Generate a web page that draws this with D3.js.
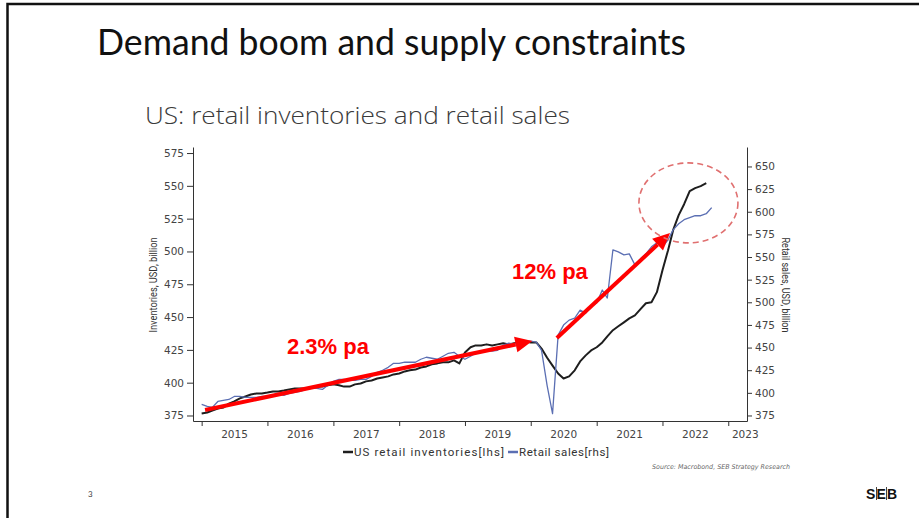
<!DOCTYPE html>
<html>
<head>
<meta charset="utf-8">
<script src="https://cdn.jsdelivr.net/npm/d3@7"></script>
<style>
  body { margin: 0; background: #fff; }
  svg { display: block; }
</style>
</head>
<body>
<div id="chart"></div>
<script>
let width = 919, height = 518;

// monthly data, first value is Jan 2015
let startYear = 2015;
let inventories = [376.5, 377.3, 378.8, 380.3, 381, 384, 385.7, 388, 389.5, 391, 391.8, 391.8,
  392.5, 393.3, 393.3, 394, 394.8, 395.6, 395.6, 395.6, 396.4, 397, 397, 398,
  398.7, 398, 397, 397, 398.7, 399.4, 401, 401.7, 403.2, 404, 404.8, 406.3,
  407, 408.6, 409.4, 410, 411.6, 412.4, 414, 414.7, 415.5, 415.5, 417, 414.7,
  423, 427, 428.4, 428.4, 429.2, 428.4, 429.2, 430, 429.2, 430, 430.7, 431.5,
  430.7, 430.7, 426, 419, 413, 407, 403.2, 404.8, 409.4, 416.2, 420.8, 424.6,
  427, 430.7, 435.3, 440, 443, 446, 449, 451.3, 456, 460.5, 461.3, 469,
  485.7, 501, 516.2, 527.7, 536, 546, 548.3, 549.8, 552];
let retailSales = [387.2, 385, 383.9, 390.5, 391.6, 392.7, 396, 396, 395, 395, 395, 396,
  396, 397.2, 398.3, 397.2, 399.4, 400.5, 401.6, 403.8, 405, 405, 403.8, 408.3,
  412.7, 414.9, 414.9, 413.8, 413.8, 414.9, 414.9, 418.2, 422.7, 424.9, 428.2, 432.6,
  432.6, 433.8, 433.8, 433.8, 437.1, 439.3, 438.2, 437.1, 440.4, 443.7, 444.8, 440.4,
  437.1, 440.4, 443.7, 444.8, 446, 446, 447, 452.6, 454.8, 453.7, 456, 457,
  457, 456, 447, 408, 377, 463.7, 474.8, 480.3, 482.5, 491.4, 488, 495.8,
  499.2, 513.6, 504.7, 557.9, 555.7, 552.4, 553.5, 541.3, 548, 553.5, 561.3, 565.7,
  561.3, 569, 580, 586.7, 591.2, 593.4, 595.6, 595.6, 597.8, 604.5];

let leftTicks = [375, 400, 425, 450, 475, 500, 525, 550, 575];
let rightTicks = [375, 400, 425, 450, 475, 500, 525, 550, 575, 600, 625, 650];
let years = [2015, 2016, 2017, 2018, 2019, 2020, 2021, 2022, 2023];

let seriesNames = ["US retail inventories[lhs]", "Retail sales[rhs]"];
let seriesColors = ["#1e1e1e", "#5b6fb3"];

// annotations: [start date, start lhs value, end date, end lhs value]
let arrows = [
  [new Date(2015, 0, 20), 379.2, new Date(2020, 0, 10), 431.8],
  [new Date(2020, 4, 25), 434, new Date(2022, 1, 12), 514]
];
let arrowLabels = ["2.3% pa", "12% pa"];

let monthDate = i => new Date(startYear, i, 1);

let x = d3.scaleTime()
  .domain([new Date(2014, 10, 14), new Date(2023, 3, 15)])
  .range([193, 747]);
let yL = d3.scaleLinear().domain([370.8, 579.6]).range([421, 147]);
let yR = d3.scaleLinear().domain([368.9, 671.5]).range([421, 147]);

let svg = d3.select("#chart").append("svg")
  .attr("width", width).attr("height", height)
  .attr("viewBox", [0, 0, width, height]);

// slide frame
svg.append("path")
  .attr("d", `M7.5,${height} V4 H${width}`)
  .attr("fill", "none").attr("stroke", "#111").attr("stroke-width", 2.5);

svg.append("text")
  .attr("x", 97).attr("y", 55)
  .attr("font-family", "Lato, 'Open Sans', sans-serif")
  .attr("font-size", 36)
  .attr("fill", "#111")
  .attr("textLength", 589).attr("lengthAdjust", "spacingAndGlyphs")
  .text("Demand boom and supply constraints");

svg.append("text")
  .attr("x", 145).attr("y", 124)
  .attr("font-family", "'Open Sans', sans-serif")
  .attr("font-weight", 300)
  .attr("font-size", 23)
  .attr("fill", "#3a3a3a")
  .attr("textLength", 425).attr("lengthAdjust", "spacingAndGlyphs")
  .text("US: retail inventories and retail sales");

let tickFont = g => g
  .attr("font-family", "'DejaVu Sans', sans-serif")
  .attr("font-size", 10.5)
  .call(g => g.selectAll(".domain").attr("stroke", "#333"))
  .call(g => g.selectAll(".tick line").attr("stroke", "#333"))
  .call(g => g.selectAll(".tick text").attr("fill", "#444"));

svg.append("g")
  .attr("transform", "translate(193,0)")
  .call(d3.axisLeft(yL).tickValues(leftTicks).tickSize(6).tickSizeOuter(0).tickPadding(3))
  .call(tickFont);

svg.append("g")
  .attr("transform", "translate(747,0)")
  .call(d3.axisRight(yR).tickValues(rightTicks).tickSize(5).tickSizeOuter(0).tickPadding(3))
  .call(tickFont);

svg.append("g")
  .attr("transform", "translate(0,421)")
  .call(d3.axisBottom(x).tickValues(years.map(y => new Date(y, 0, 1))).tickFormat("").tickSize(5).tickSizeOuter(0))
  .call(tickFont);

// year labels centred in each year (last one in the part that is shown)
svg.append("g")
  .attr("font-family", "'DejaVu Sans', sans-serif")
  .attr("font-size", 10.5)
  .attr("fill", "#444")
  .attr("text-anchor", "middle")
  .selectAll("text")
  .data(years)
  .join("text")
  .attr("x", d => d < 2023 ? (x(new Date(d, 0, 1)) + x(new Date(d + 1, 0, 1))) / 2 : x(new Date(d, 0, 1)) + 17)
  .attr("y", 438)
  .text(d => d);

svg.append("text")
  .attr("transform", `translate(157,285) rotate(-90)`)
  .attr("text-anchor", "middle")
  .attr("font-family", "'Liberation Sans Narrow', Roboto, sans-serif")
  .attr("font-size", 10)
  .attr("fill", "#333")
  .attr("textLength", 95).attr("lengthAdjust", "spacingAndGlyphs")
  .text("Inventories, USD, billion");

svg.append("text")
  .attr("transform", `translate(782,285) rotate(90)`)
  .attr("text-anchor", "middle")
  .attr("font-family", "'Liberation Sans Narrow', Roboto, sans-serif")
  .attr("font-size", 10)
  .attr("fill", "#333")
  .attr("textLength", 95).attr("lengthAdjust", "spacingAndGlyphs")
  .text("Retail sales, USD, billion");

let line = (scale) => d3.line()
  .x((d, i) => x(monthDate(i)))
  .y(d => scale(d));

svg.append("path")
  .datum(inventories)
  .attr("fill", "none")
  .attr("stroke", seriesColors[0])
  .attr("stroke-width", 2)
  .attr("stroke-linejoin", "round")
  .attr("d", line(yL));

svg.append("path")
  .datum(retailSales)
  .attr("fill", "none")
  .attr("stroke", seriesColors[1])
  .attr("stroke-width", 1.3)
  .attr("stroke-linejoin", "round")
  .attr("d", line(yR));

// legend
let legend = svg.append("g")
  .attr("font-family", "Roboto, sans-serif")
  .attr("font-size", 11.5)
  .attr("fill", "#333");
let lx = [343, 508];
let lw = [150, 90];
seriesNames.forEach((name, i) => {
  legend.append("line")
    .attr("x1", lx[i]).attr("x2", lx[i] + 10)
    .attr("y1", 452).attr("y2", 452)
    .attr("stroke", seriesColors[i]).attr("stroke-width", 2.5);
  legend.append("text")
    .attr("x", lx[i] + 11).attr("y", 456)
    .attr("textLength", lw[i]).attr("lengthAdjust", "spacing")
    .text(name);
});

// red arrows
let ann = svg.append("g");
arrows.forEach(([d0, v0, d1, v1]) => {
  let x0 = x(d0), y0 = yL(v0), x1 = x(d1), y1 = yL(v1);
  let a = Math.atan2(y1 - y0, x1 - x0);
  let head = 17, half = 8;
  let bx = x1 - head * Math.cos(a), by = y1 - head * Math.sin(a);
  ann.append("line")
    .attr("x1", x0).attr("y1", y0).attr("x2", bx).attr("y2", by)
    .attr("stroke", "#ff0000").attr("stroke-width", 4);
  ann.append("path")
    .attr("d", `M${x1},${y1} L${bx + half * Math.sin(a)},${by - half * Math.cos(a)} L${bx - half * Math.sin(a)},${by + half * Math.cos(a)} Z`)
    .attr("fill", "#ff0000");
});

ann.selectAll("text.lbl")
  .data(arrowLabels)
  .join("text")
  .attr("class", "lbl")
  .attr("x", (d, i) => [287, 512][i])
  .attr("y", (d, i) => [354, 279][i])
  .attr("font-family", "'Liberation Sans', Arial, sans-serif")
  .attr("font-weight", "bold")
  .attr("font-size", 22)
  .attr("fill", "#ff0000")
  .text(d => d);

// dashed circle round the latest months
svg.append("ellipse")
  .attr("cx", x(new Date(2022, 4, 25)))
  .attr("cy", yL(537))
  .attr("rx", 49.5).attr("ry", 40)
  .attr("fill", "none")
  .attr("stroke", "#e07070")
  .attr("stroke-width", 1.6)
  .attr("stroke-dasharray", "6,4");

svg.append("text")
  .attr("x", 652).attr("y", 469)
  .attr("font-family", "'DejaVu Sans', sans-serif")
  .attr("font-style", "italic")
  .attr("font-size", 6.5)
  .attr("fill", "#666")
  .attr("textLength", 138).attr("lengthAdjust", "spacingAndGlyphs")
  .text("Source: Macrobond, SEB Strategy Research");

svg.append("text")
  .attr("x", 88).attr("y", 497)
  .attr("font-family", "Lato, sans-serif")
  .attr("font-size", 8)
  .attr("fill", "#444")
  .text("3");

// SEB logo
let logo = svg.append("g");
logo.append("text")
  .attr("x", 866).attr("y", 499)
  .attr("font-family", "'Liberation Sans', Arial, sans-serif")
  .attr("font-weight", "bold")
  .attr("font-size", 14)
  .attr("fill", "#111")
  .attr("textLength", 31).attr("lengthAdjust", "spacing")
  .text("SEB");
[876.5, 886.5].forEach(px => logo.append("line")
  .attr("x1", px).attr("x2", px).attr("y1", 487).attr("y2", 500)
  .attr("stroke", "#111").attr("stroke-width", 0.8));
</script>
</body>
</html>
